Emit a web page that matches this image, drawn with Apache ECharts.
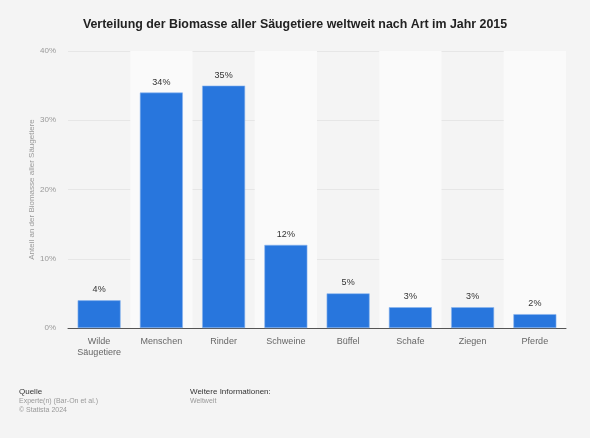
<!DOCTYPE html>
<html><head><meta charset="utf-8">
<script src="https://cdn.jsdelivr.net/npm/echarts@6/dist/echarts.min.js"></script>
<style>html,body{margin:0;padding:0;background:#f4f4f4}#c{width:590px;height:438px}</style>
</head><body><div id="c"></div>
<script>
const categories = ['Wilde\nSäugetiere','Menschen','Rinder','Schweine','Büffel','Schafe','Ziegen','Pferde'];
const values = [4,34,35,12,5,3,3,2];
const yTicks = [0,10,20,30,40];
const chart = echarts.init(document.getElementById('c'));
const F = 'Liberation Sans, Arial, sans-serif';
chart.setOption({
  backgroundColor:'#f4f4f4',
  animation:false,
  title:{text:'Verteilung der Biomasse aller Säugetiere weltweit nach Art im Jahr 2015',left:'center',top:14,
    textStyle:{fontFamily:F,fontSize:12.4,fontWeight:'bold',color:'#222'}},
  grid:{left:68,right:24,top:51,bottom:110,containLabel:false},
  xAxis:{type:'category',data:categories,
    axisLine:{lineStyle:{color:'#555',width:1}},axisTick:{show:false},
    splitArea:{show:true,areaStyle:{color:['rgba(0,0,0,0)','#fafafa']}},
    axisLabel:{fontFamily:F,fontSize:9,color:'#666',margin:8,lineHeight:11,interval:0}},
  yAxis:{type:'value',min:yTicks[0],max:yTicks[yTicks.length-1],interval:10,
    name:'Anteil an der Biomasse aller Säugetiere',nameLocation:'middle',nameGap:32,nameMoveOverlap:false,
    nameTextStyle:{fontFamily:F,fontSize:8,color:'#999'},
    axisLine:{show:false},axisTick:{show:false},
    axisLabel:{formatter:'{value}%',fontFamily:F,fontSize:8,color:'#999',margin:12},
    splitLine:{lineStyle:{color:'#e6e6e6',width:1}}},
  series:[{type:'bar',data:values,barCategoryGap:'31%',
    itemStyle:{color:'#2876dd',borderColor:'#8ab6ee',borderWidth:0.6},
    label:{show:true,position:'top',formatter:'{c}%',fontFamily:F,fontSize:9,color:'#333',distance:6}}],
  graphic:[
    {type:'text',left:19,top:388,style:{text:'Quelle',font:'8px Liberation Sans, Arial',fill:'#333'}},
    {type:'text',left:19,top:398,style:{text:'Experte(n) (Bar-On et al.)',font:'7px Liberation Sans, Arial',fill:'#999'}},
    {type:'text',left:19,top:407,style:{text:'© Statista 2024',font:'7px Liberation Sans, Arial',fill:'#999'}},
    {type:'text',left:190,top:388,style:{text:'Weitere Informationen:',font:'8px Liberation Sans, Arial',fill:'#333'}},
    {type:'text',left:190,top:398,style:{text:'Weltweit',font:'7px Liberation Sans, Arial',fill:'#999'}}
  ]
});
</script></body></html>
